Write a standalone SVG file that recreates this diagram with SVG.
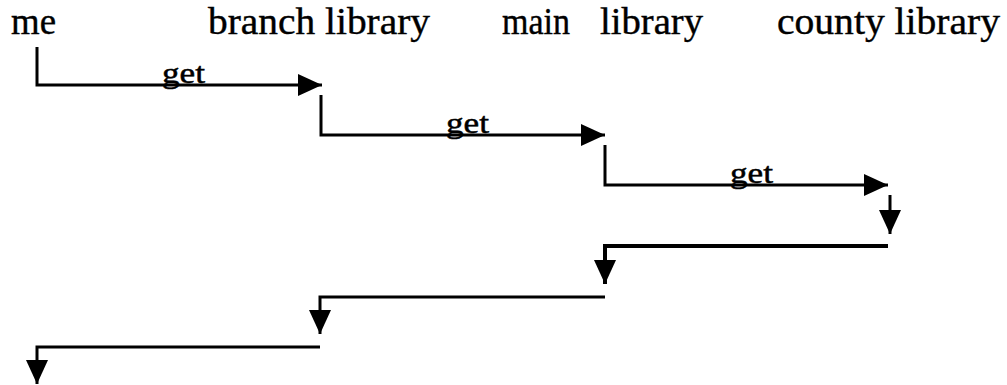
<svg xmlns="http://www.w3.org/2000/svg" width="1007" height="385" viewBox="0 0 1007 385">
<style>
.lbl{font-family:"Liberation Serif","Times New Roman",serif;font-size:37px;fill:#000;stroke:#000;stroke-width:0.4}
.get{font-family:"Liberation Serif","Times New Roman",serif;font-size:29px;fill:#000;stroke:#000;stroke-width:0.5}
.ln{fill:none;stroke:#000;stroke-width:3}
.thick{stroke-width:4}
</style>
<defs>
<marker id="ah" markerUnits="userSpaceOnUse" markerWidth="24" markerHeight="22" refX="24" refY="11" orient="auto" viewBox="0 0 24 22">
<path d="M0,0 L24,11 L0,22 Z" fill="#000"/>
</marker>
</defs>
<rect width="1007" height="385" fill="#fff"/>
<g id="me"><text class="lbl" x="11" y="34" textLength="45" lengthAdjust="spacingAndGlyphs">me</text></g>
<g id="branch-library"><text class="lbl" x="208" y="34" textLength="222" lengthAdjust="spacingAndGlyphs">branch library</text></g>
<g id="main-library"><text class="lbl" y="34"><tspan x="502" textLength="68" lengthAdjust="spacingAndGlyphs">main</tspan><tspan x="600" textLength="103" lengthAdjust="spacingAndGlyphs">library</tspan></text></g>
<g id="county-library"><text class="lbl" x="777" y="34" textLength="223" lengthAdjust="spacingAndGlyphs">county library</text></g>
<g id="connectors">
<path class="ln" d="M37,47 V85 H322" marker-end="url(#ah)"/>
<path class="ln" d="M321,95 V135 H605" marker-end="url(#ah)"/>
<path class="ln" d="M605,145 V185 H888" marker-end="url(#ah)"/>
<path class="ln" d="M890,195 V234" marker-end="url(#ah)"/>
<path class="ln thick" d="M888,246 H605 V284" marker-end="url(#ah)"/>
<path class="ln" d="M605,297 H320 V334" marker-end="url(#ah)"/>
<path class="ln" d="M320,347 H37 V384" marker-end="url(#ah)"/>
<text class="get" x="162" y="83" textLength="43" lengthAdjust="spacingAndGlyphs">get</text>
<text class="get" x="446" y="133" textLength="43" lengthAdjust="spacingAndGlyphs">get</text>
<text class="get" x="730" y="183" textLength="43" lengthAdjust="spacingAndGlyphs">get</text>
</g>
</svg>
